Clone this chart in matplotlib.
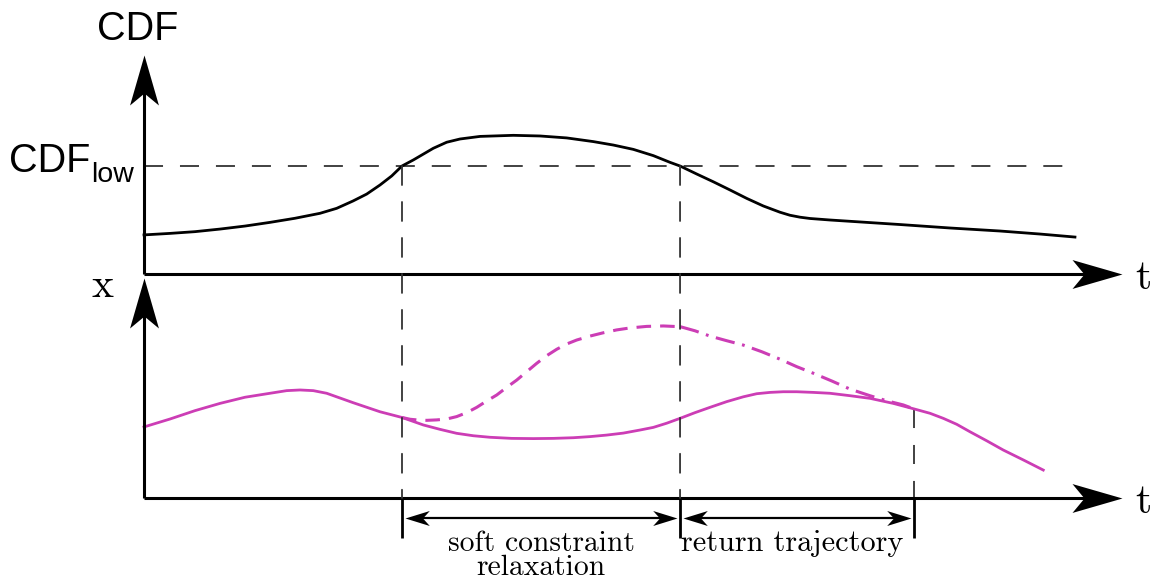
import numpy as np
import matplotlib
matplotlib.use("Agg")
import matplotlib.pyplot as plt
from matplotlib.path import Path
from matplotlib.patches import ConnectionPatch

plt.rcParams['lines.scale_dashes'] = False

# ---------------- data (schematic values) ----------------
# upper panel: CDF over time
t_cdf = [0.000, 0.266, 0.521, 0.777, 1.033, 1.288, 1.544, 1.800, 1.970, 2.137,
         2.277, 2.413, 2.533, 2.638, 2.754, 2.958, 3.095, 3.231, 3.436, 3.776,
         4.049, 4.322, 4.594, 4.799, 5.003, 5.208, 5.378, 5.481, 5.651, 5.821,
         5.992, 6.163, 6.332, 6.503, 6.605, 6.708, 6.810, 7.014, 7.321, 7.730,
         8.241, 8.753, 9.162, 9.519]
cdf_vals = [0.181, 0.188, 0.196, 0.208, 0.222, 0.239, 0.258, 0.281, 0.304, 0.338,
            0.370, 0.412, 0.454, 0.500, 0.528, 0.582, 0.610, 0.625, 0.637, 0.642,
            0.639, 0.630, 0.613, 0.597, 0.577, 0.548, 0.517, 0.500, 0.463, 0.427,
            0.389, 0.350, 0.315, 0.286, 0.272, 0.263, 0.257, 0.250, 0.241, 0.229,
            0.213, 0.199, 0.185, 0.171]
CDF_LOW = 0.5
CDF_LOW_END = 9.52

# lower panel: state x over time (nominal trajectory)
t_x = [0.000, 0.266, 0.521, 0.777, 1.033, 1.288, 1.459, 1.595, 1.731, 1.868,
       2.140, 2.413, 2.638, 2.856, 3.027, 3.197, 3.367, 3.538, 3.760, 3.981,
       4.185, 4.390, 4.560, 4.731, 4.901, 5.072, 5.208, 5.345, 5.481, 5.634,
       5.787, 5.958, 6.128, 6.265, 6.401, 6.537, 6.674, 6.844, 7.014, 7.219,
       7.423, 7.662, 7.873, 8.037, 8.173, 8.310, 8.446, 8.617, 8.786, 8.991,
       9.195]
x_vals = [0.323, 0.359, 0.397, 0.430, 0.458, 0.476, 0.488, 0.491, 0.488, 0.476,
          0.433, 0.392, 0.366, 0.332, 0.312, 0.294, 0.283, 0.276, 0.271, 0.270,
          0.271, 0.274, 0.279, 0.286, 0.295, 0.309, 0.321, 0.340, 0.362, 0.388,
          0.412, 0.438, 0.460, 0.474, 0.480, 0.483, 0.483, 0.480, 0.476, 0.465,
          0.453, 0.430, 0.405, 0.385, 0.362, 0.335, 0.301, 0.260, 0.218, 0.173,
          0.127]

# relaxed trajectory (dashed) during soft constraint relaxation
t_relax = [2.638, 2.720, 2.788, 2.891, 2.993, 3.095, 3.197, 3.300, 3.402, 3.504,
           3.606, 3.709, 3.811, 3.913, 4.015, 4.118, 4.220, 4.322, 4.424, 4.560,
           4.696, 4.833, 4.969, 5.140, 5.310, 5.412, 5.481]
x_relax = [0.366, 0.358, 0.355, 0.353, 0.355, 0.359, 0.370, 0.388, 0.412, 0.441,
           0.468, 0.503, 0.536, 0.574, 0.612, 0.647, 0.676, 0.700, 0.718, 0.736,
           0.751, 0.764, 0.773, 0.780, 0.782, 0.780, 0.779]

# return trajectory (dash-dot)
t_return = [5.481, 5.634, 5.787, 5.958, 6.128, 6.316, 6.503, 6.674, 6.844,
            7.032, 7.219, 7.423, 7.594, 7.764, 7.873]
x_return = [0.779, 0.760, 0.736, 0.715, 0.695, 0.665, 0.631, 0.597, 0.567,
            0.532, 0.495, 0.465, 0.442, 0.423, 0.405]

# event times: CDF falls below / rises above threshold, return complete
T_EVENTS = [2.638, 5.481, 7.873]
X_AT_RETURN = 0.405

span_labels = ["soft constraint\nrelaxation", "return trajectory"]

# ---------------- styles ----------------
MAGENTA = '#cc3db5'
DASHGRAY = '#333333'
AX_LW = 2.2
W, H = 1162, 582
fig = plt.figure(figsize=(W / 100, H / 100), dpi=100)

# layout: both panels overlay the whole figure; pixel origins of each panel
PX_T0, PX_PER_T = 144.0, 97.8
TOP_Y0, TOP_PER = 274.0, 216.0
BOT_Y0, BOT_PER = 498.0, 220.0

ax_top = fig.add_axes([0, 0, 1, 1])
ax_bot = fig.add_axes([0, 0, 1, 1])
for ax in (ax_top, ax_bot):
    ax.set_axis_off()
    ax.set_xlim(-PX_T0 / PX_PER_T, (W - PX_T0) / PX_PER_T)
    ax.patch.set_alpha(0)
ax_top.set_ylim(-(H - TOP_Y0) / TOP_PER, TOP_Y0 / TOP_PER)
ax_bot.set_ylim(-(H - BOT_Y0) / BOT_PER, BOT_Y0 / BOT_PER)

T_TIP = 10.0
Y_TIP_TOP = 1.015
Y_TIP_BOT = 1.0


def stealth(direction, L, Wd, notch):
    if direction == 'right':
        v = [(0, 0), (-L, Wd), (-notch * L, 0), (-L, -Wd), (0, 0)]
    elif direction == 'left':
        v = [(0, 0), (L, Wd), (notch * L, 0), (L, -Wd), (0, 0)]
    else:  # up
        v = [(0, 0), (-Wd, -L), (0, -notch * L), (Wd, -L), (0, 0)]
    codes = [Path.MOVETO, Path.LINETO, Path.LINETO, Path.LINETO, Path.CLOSEPOLY]
    return Path(v, codes), 2 * L


BIG = dict(L=36.0, Wd=10.4, notch=0.76)
SMALL = dict(L=17.5, Wd=5.4, notch=0.72)


def head(ax, x, y, direction, spec, z=6):
    p, ms = stealth(direction, **spec)
    ax.plot([x], [y], marker=p, markersize=ms, color='black',
            markeredgewidth=0, linestyle='none', zorder=z, clip_on=False)


# ---------------- upper panel ----------------
ax_top.plot([0, T_TIP - 0.3], [0, 0], color='black', lw=AX_LW,
            solid_capstyle='butt', zorder=5, clip_on=False)
ax_top.plot([0, 0], [0, Y_TIP_TOP - 0.1], color='black', lw=AX_LW,
            solid_capstyle='butt', zorder=5, clip_on=False)
head(ax_top, T_TIP, 0, 'right', BIG)
head(ax_top, 0, Y_TIP_TOP, 'up', BIG)

ax_top.plot([0, CDF_LOW_END], [CDF_LOW, CDF_LOW], color=DASHGRAY, lw=1.3,
            dashes=(13.7, 12.2), zorder=2)
ax_top.plot(t_cdf, cdf_vals, color='black', lw=2.0, zorder=4,
            solid_joinstyle='round')

ax_top.text(-0.067, 1.083, 'CDF', fontsize=28.5, family='Liberation Sans',
            ha='center', va='baseline')
ax_top.text(-0.552, 0.472, 'CDF', fontsize=28.5, family='Liberation Sans',
            ha='right', va='baseline')
ax_top.text(-0.54, 0.426, 'low', fontsize=20.5, family='Liberation Sans',
            ha='left', va='baseline')
ax_top.text(10.215, -0.069, 't', fontsize=30, family='cmr10',
            ha='center', va='baseline')

# ---------------- lower panel ----------------
ax_bot.plot([0, T_TIP - 0.3], [0, 0], color='black', lw=AX_LW,
            solid_capstyle='butt', zorder=5, clip_on=False)
ax_bot.plot([0, 0], [0, Y_TIP_BOT - 0.1], color='black', lw=AX_LW,
            solid_capstyle='butt', zorder=5, clip_on=False)
head(ax_bot, T_TIP, 0, 'right', BIG)
head(ax_bot, 0, Y_TIP_BOT, 'up', BIG)

ax_bot.text(-0.429, 0.914, 'x', fontsize=30, family='cmr10',
            ha='center', va='baseline')
ax_bot.text(10.215, -0.068, 't', fontsize=30, family='cmr10',
            ha='center', va='baseline')

ax_bot.plot(t_x, x_vals, color=MAGENTA, lw=2.0, zorder=4,
            solid_joinstyle='round')
ax_bot.plot(t_relax, x_relax, color=MAGENTA, lw=2.2, dashes=(10.5, 6.5),
            zorder=4)
ax_bot.plot(t_return, x_return, color=MAGENTA, lw=2.2,
            dashes=(14, 5.5, 2, 5.5), zorder=4)

# vertical dashed guides
for te in T_EVENTS[:2]:
    cp = ConnectionPatch(xyA=(te, CDF_LOW), coordsA=ax_top.transData,
                         xyB=(te, 0), coordsB=ax_bot.transData,
                         color=DASHGRAY, lw=1.3, linestyle=(0, (13.7, 12.2)),
                         zorder=2)
    fig.add_artist(cp)
ax_bot.plot([T_EVENTS[2], T_EVENTS[2]], [X_AT_RETURN, 0], color=DASHGRAY,
            lw=1.3, dashes=(13.7, 12.2), zorder=2)

# span annotations below the time axis
TICK_END = -0.182
ARROW_Y = -0.091
for te in T_EVENTS:
    ax_bot.plot([te, te], [0, TICK_END], color='black', lw=2.0,
                solid_capstyle='butt', zorder=5, clip_on=False)
for (a, b) in [(T_EVENTS[0], T_EVENTS[1]), (T_EVENTS[1], T_EVENTS[2])]:
    a2, b2 = a + 0.03, b - 0.03
    ax_bot.plot([a2 + 0.1, b2 - 0.1], [ARROW_Y, ARROW_Y], color='black',
                lw=1.6, zorder=5, clip_on=False)
    head(ax_bot, a2, ARROW_Y, 'left', SMALL)
    head(ax_bot, b2, ARROW_Y, 'right', SMALL)

mid1 = (T_EVENTS[0] + T_EVENTS[1]) / 2
mid2 = (T_EVENTS[1] + T_EVENTS[2]) / 2
line1, line2 = span_labels[0].split('\n')
ax_bot.text(mid1, -0.241, line1, fontsize=21.3, family='cmr10',
            ha='center', va='baseline')
ax_bot.text(mid1, -0.35, line2, fontsize=21.3, family='cmr10',
            ha='center', va='baseline')
ax_bot.text(mid2 - 0.05, -0.241, span_labels[1], fontsize=21.8, family='cmr10',
            ha='center', va='baseline')

fig.savefig('out.png', dpi=100)
